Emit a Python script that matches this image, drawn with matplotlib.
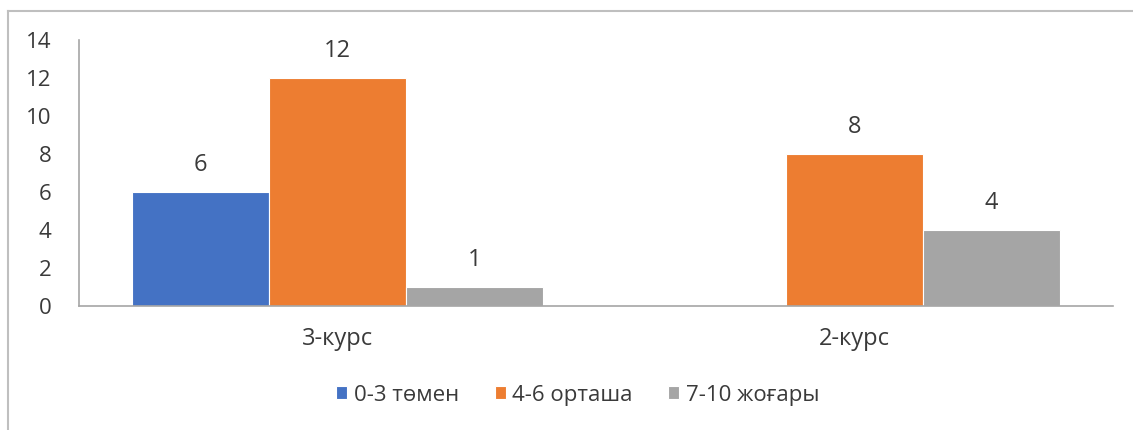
import numpy as np
import matplotlib
matplotlib.use("Agg")
import matplotlib.pyplot as plt
from matplotlib.lines import Line2D

plt.rcParams['font.family'] = ['Open Sans', 'DejaVu Sans']

categories = ['3-курс', '2-курс']
series_names = ['0-3 төмен', '4-6 орташа', '7-10 жоғары']
low = [6, 0]
mid = [12, 8]
high = [1, 4]
colors = ['#4472C4', '#ED7D31', '#A5A5A5']
text_color = '#3A3A3A'

fig = plt.figure(figsize=(11.33, 4.30), dpi=100)
ax = fig.add_axes([0.0697, 0.288, 0.9123, 0.619])

x = np.arange(len(categories))
w = 0.265
for i, (vals, name) in enumerate(zip([low, mid, high], series_names)):
    bars = ax.bar(x + (i - 1) * w, vals, w, color=colors[i], label=name,
                  edgecolor='white', linewidth=0.8)
    for b, v in zip(bars, vals):
        if v > 0:
            ax.annotate(str(v), (b.get_x() + b.get_width() / 2, v),
                        xytext=(0, 11), textcoords='offset points',
                        ha='center', va='bottom', fontsize=17, color=text_color)

ax.set_xlim(-0.5, 1.5)
ax.set_ylim(0, 14)
ax.set_yticks(range(0, 15, 2))
ax.set_xticks(x)
ax.set_xticklabels(categories)
ax.tick_params(axis='y', length=0, labelsize=16, colors=text_color, pad=20)
ax.tick_params(axis='x', length=0, labelsize=17, colors=text_color, pad=15)
for s in ['top', 'right']:
    ax.spines[s].set_visible(False)
ax.spines['left'].set_color('#A6A6A6')
ax.spines['bottom'].set_color('#A6A6A6')
ax.spines['left'].set_linewidth(1.2)
ax.spines['bottom'].set_linewidth(1.2)

leg = fig.legend(loc='center', bbox_to_anchor=(0.51, 0.081), ncol=3,
                 frameon=False, fontsize=16, handlelength=0.5, handleheight=0.5,
                 handletextpad=0.3, columnspacing=1.6)
for t in leg.get_texts():
    t.set_color(text_color)

# outer chart border (top and left visible)
fig.add_artist(Line2D([0.0075, 0.0075], [0, 0.975], transform=fig.transFigure,
                      color='#BFBFBF', linewidth=1.5))
fig.add_artist(Line2D([0.0075, 1.0], [0.975, 0.975], transform=fig.transFigure,
                      color='#BFBFBF', linewidth=1.5))

fig.savefig('out.png', dpi=100)
